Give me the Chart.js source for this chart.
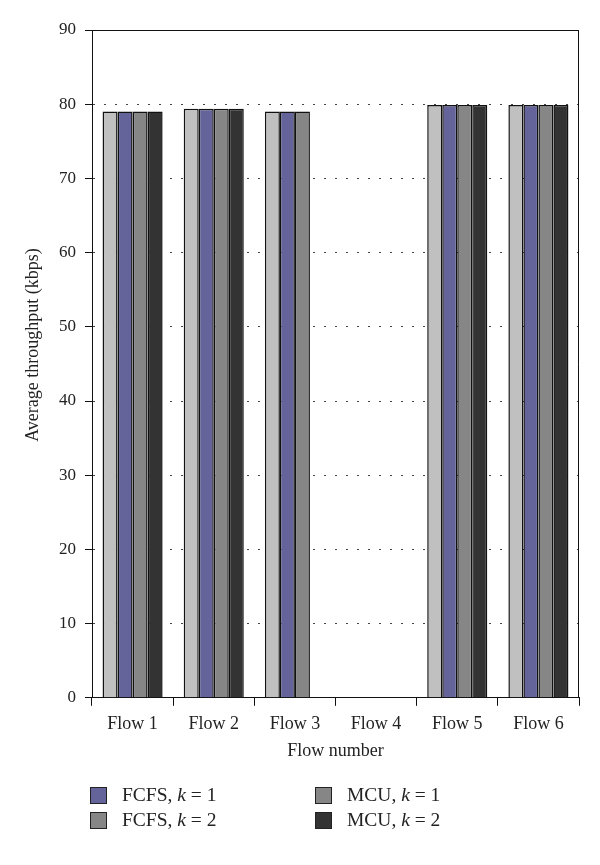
<!DOCTYPE html>
<html lang="en">

<head>
    <meta charset="UTF-8">
    <title>Average throughput per flow</title>
    <script src="https://cdn.jsdelivr.net/npm/chart.js"></script>
    <style>
        body {
            margin: 0;
            background: #ffffff;
            font-family: 'Liberation Serif', 'DejaVu Serif', serif;
        }

        .wrap {
            position: relative;
            width: 600px;
            height: 865px;
        }

        /* legend laid out in two columns like the original figure */
        .legend {
            position: absolute;
            left: 90px;
            top: 786px;
            display: grid;
            grid-template-columns: 225px 200px;
            row-gap: 7px;
            font-size: 19.5px;
            color: #222;
        }

        .legend-item {
            display: flex;
            align-items: center;
            height: 18px;
        }

        .swatch {
            width: 15px;
            height: 15px;
            border: 1px solid #222;
            margin-right: 15px;
        }
    </style>
</head>

<body>
    <div class="wrap">
        <canvas id="flowChart" width="600" height="865"></canvas>
        <div class="legend" id="legend"></div>
    </div>

    <script>
        // Data
        const flows = ['Flow 1', 'Flow 2', 'Flow 3', 'Flow 4', 'Flow 5', 'Flow 6'];
        const fcfsK2 = [79, 79.4, 79, null, 79.9, 79.9];
        const fcfsK1 = [79, 79.4, 79, null, 79.9, 79.9];
        const mcuK1 = [79, 79.4, 79, null, 79.9, 79.9];
        const mcuK2 = [79, 79.4, null, null, 79.9, 79.9];
        const yTicks = [0, 10, 20, 30, 40, 50, 60, 70, 80, 90];
        const yTitle = 'Average throughput (kbps)';

        // Legend entries as printed under the figure (column-wise)
        const legendLabels = ['FCFS, <i>k</i> = 1', 'MCU, <i>k</i> = 1', 'FCFS, <i>k</i> = 2', 'MCU, <i>k</i> = 2'];
        const legendColors = ['#64649a', '#868686', '#868686', '#333333'];

        const serif = "'Liberation Serif', 'DejaVu Serif', serif";

        function bar(label, data, color) {
            return {
                label: label,
                data: data,
                backgroundColor: color,
                borderColor: '#111',
                borderWidth: 1.5,
                categoryPercentage: 0.74,
                barPercentage: 1.0
            };
        }

        // top/right edges of the plot frame, plus the y title (sits a bit above centre in the original)
        const frame = {
            id: 'frame',
            afterDraw(chart) {
                const a = chart.chartArea;
                const c = chart.ctx;
                c.save();
                c.strokeStyle = '#111';
                c.lineWidth = 1;
                c.beginPath();
                c.moveTo(a.left, a.top + 0.5);
                c.lineTo(a.right - 0.5, a.top + 0.5);
                c.lineTo(a.right - 0.5, a.bottom);
                c.stroke();

                c.translate(33, 345);
                c.rotate(-Math.PI / 2);
                c.fillStyle = '#222';
                c.font = '18px ' + serif;
                c.textAlign = 'center';
                c.textBaseline = 'middle';
                c.fillText(yTitle, 0, 0);
                c.restore();
            }
        };

        const ctx = document.getElementById('flowChart').getContext('2d');
        new Chart(ctx, {
            type: 'bar',
            data: {
                labels: flows,
                datasets: [
                    bar('FCFS, k = 2', fcfsK2, '#c0c0c0'),
                    bar('FCFS, k = 1', fcfsK1, '#64649a'),
                    bar('MCU, k = 1', mcuK1, '#868686'),
                    bar('MCU, k = 2', mcuK2, '#333333')
                ]
            },
            options: {
                responsive: false,
                animation: false,
                layout: {
                    padding: { left: 14, right: 21, top: 30, bottom: 99 }
                },
                plugins: {
                    legend: { display: false },
                    tooltip: { enabled: false }
                },
                scales: {
                    x: {
                        offset: true,
                        grid: {
                            offset: true,
                            drawOnChartArea: false,
                            drawTicks: true,
                            tickLength: 8,
                            tickColor: '#111'
                        },
                        border: { display: true, color: '#111', width: 1 },
                        ticks: {
                            color: '#222',
                            font: { family: serif, size: 18 },
                            padding: 8
                        },
                        title: {
                            display: true,
                            text: 'Flow number',
                            color: '#222',
                            font: { family: serif, size: 18 },
                            padding: { top: -3 }
                        }
                    },
                    y: {
                        min: 0,
                        max: 90,
                        afterBuildTicks: (axis) => {
                            axis.ticks = yTicks.map(v => ({ value: v }));
                        },
                        afterFit: (axis) => {
                            axis.width = 78;
                        },
                        grid: {
                            color: '#444',
                            tickBorderDash: [],
                            tickColor: '#111',
                            tickLength: 7,
                            drawTicks: true
                        },
                        border: { display: true, color: '#111', width: 1, dash: [2, 9] },
                        ticks: {
                            color: '#222',
                            font: { family: serif, size: 17 },
                            padding: 9
                        }
                    }
                }
            },
            plugins: [frame]
        });

        // HTML legend
        const legendEl = document.getElementById('legend');
        legendLabels.forEach((text, i) => {
            const item = document.createElement('div');
            item.className = 'legend-item';
            item.innerHTML = '<span class="swatch" style="background:' + legendColors[i] + '"></span><span>' + text + '</span>';
            legendEl.appendChild(item);
        });
    </script>
</body>

</html>
